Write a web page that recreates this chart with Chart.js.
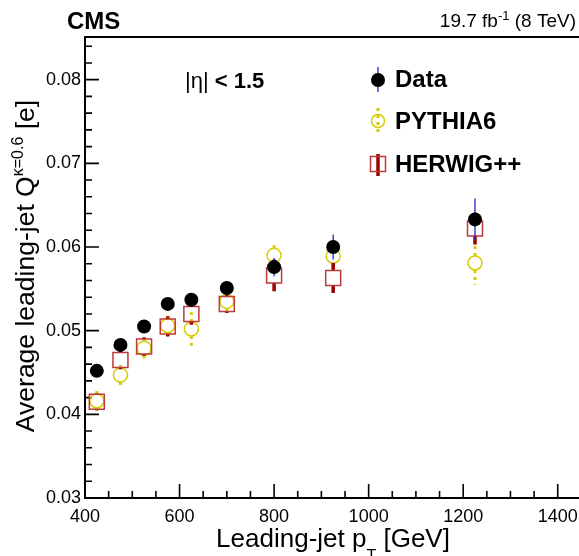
<!DOCTYPE html>
<html>
<head>
<meta charset="utf-8">
<script src="https://cdn.jsdelivr.net/npm/chart.js@4.4.1/dist/chart.umd.min.js"></script>
<style>
	body { margin: 0; background: #fff; }
	#wrap { width: 579px; height: 556px; }
</style>
</head>
<body>
<div id="wrap"><canvas id="chart" width="579" height="556"></canvas></div>
<script>
// leading-jet pT bins (GeV) and average jet charge values
const ptBins = [425, 475, 525, 575, 625, 700, 800, 925, 1225];
const dataQ = [0.0452, 0.0483, 0.0505, 0.0532, 0.0537, 0.0551, 0.0576, 0.0600, 0.0633];
const dataErr = [0.0004, 0.0004, 0.0004, 0.0005, 0.0005, 0.0006, 0.0011, 0.0015, 0.0025];
const pythiaQ = [0.0416, 0.0447, 0.0479, 0.0506, 0.0502, 0.0535, 0.0590, 0.0589, 0.0581];
const pythiaErr = [0.0013, 0.0013, 0.0013, 0.0014, 0.0020, 0.0012, 0.0017, 0.0015, 0.0026];
const herwigQ = [0.0415, 0.0465, 0.0481, 0.0505, 0.0520, 0.0532, 0.0566, 0.0563, 0.0622];
const herwigErr = [0.0010, 0.0011, 0.0011, 0.0012, 0.0013, 0.0011, 0.0019, 0.0018, 0.0019];

const xTicks = [400, 600, 800, 1000, 1200, 1400];
const yTicks = [0.03, 0.04, 0.05, 0.06, 0.07, 0.08];

const FONT = "'Liberation Sans', Arial, Helvetica, sans-serif";
const YELLOW = "#d8cc00";
const DARKRED = "#9c0000";
const SQUARE = "#bb3a3a";
const BLUE = "#2424c8";

function points(ys) {
	return ptBins.map((x, i) => ({ x: x, y: ys[i] }));
}

// draws a row of text pieces (sup/sub via dy)
function textRun(ctx, parts, x, y, align) {
	let total = 0;
	parts.forEach(p => {
		ctx.font = (p.bold ? "bold " : "") + p.size + "px " + FONT;
		p.w = ctx.measureText(p.t).width;
		total += p.w;
	});
	let cx = align === "center" ? x - total / 2 : align === "right" ? x - total : x;
	ctx.textAlign = "left";
	ctx.textBaseline = "alphabetic";
	parts.forEach(p => {
		ctx.font = (p.bold ? "bold " : "") + p.size + "px " + FONT;
		ctx.fillText(p.t, cx, y + (p.dy || 0));
		cx += p.w;
	});
}

// error bars, drawn just before each dataset's markers
const errorBars = {
	id: "errorBars",
	beforeDatasetDraw(chart, args) {
		const ds = chart.data.datasets[args.index];
		const yScale = chart.scales.y;
		const ctx = chart.ctx;
		ctx.save();
		ctx.strokeStyle = ds.errColor;
		ctx.lineWidth = ds.errWidth;
		ctx.setLineDash(ds.errDash || []);
		args.meta.data.forEach((pt, i) => {
			const v = ds.data[i].y;
			const top = yScale.getPixelForValue(v + ds.errors[i]);
			const bot = yScale.getPixelForValue(v - ds.errors[i]);
			const gap = ds.errGap;
			ctx.beginPath();
			if (pt.y - gap > top) {
				ctx.moveTo(pt.x, pt.y - gap);
				ctx.lineTo(pt.x, top);
			}
			if (pt.y + gap < bot) {
				ctx.moveTo(pt.x, pt.y + gap);
				ctx.lineTo(pt.x, bot);
			}
			ctx.stroke();
		});
		ctx.restore();
	}
};

// ROOT style frame with inward ticks
const frame = {
	id: "frame",
	beforeDatasetsDraw(chart) {
		const ctx = chart.ctx;
		const a = chart.chartArea;
		const xs = chart.scales.x;
		const ys = chart.scales.y;
		ctx.save();
		ctx.strokeStyle = "#000";
		ctx.lineWidth = 1.6;
		ctx.beginPath();
		for (let v = 400; v <= 1445; v += 50) {
			const px = xs.getPixelForValue(v);
			const len = v % 200 === 0 ? 14 : 7;
			ctx.moveTo(px, a.bottom);
			ctx.lineTo(px, a.bottom - len);
		}
		for (let k = 30; k <= 85; k += 2) {
			const py = ys.getPixelForValue(k / 1000);
			const len = k % 10 === 0 ? 14 : 7;
			ctx.moveTo(a.left, py);
			ctx.lineTo(a.left + len, py);
		}
		ctx.stroke();
		ctx.lineWidth = 2;
		ctx.beginPath();
		ctx.moveTo(a.right + 2, a.top);
		ctx.lineTo(a.left, a.top);
		ctx.lineTo(a.left, a.bottom);
		ctx.lineTo(a.right + 2, a.bottom);
		ctx.stroke();

		// x tick labels
		ctx.fillStyle = "#000";
		ctx.font = "18px " + FONT;
		ctx.textAlign = "center";
		ctx.textBaseline = "alphabetic";
		xTicks.forEach(v => {
			ctx.fillText(String(v), xs.getPixelForValue(v), 522);
		});
		ctx.restore();
	},
	afterDraw(chart) {
		const ctx = chart.ctx;
		ctx.save();
		ctx.fillStyle = "#000";

		textRun(ctx, [{ t: "CMS", size: 24, bold: true }], 67, 29, "left");
		textRun(ctx, [
			{ t: "19.7 fb", size: 19 },
			{ t: "-1", size: 13, dy: -7 },
			{ t: " (8 TeV)", size: 19 }
		], 576, 27, "right");

		textRun(ctx, [
			{ t: "|\u03B7|", size: 22 },
			{ t: " < 1.5", size: 22, bold: true }
		], 185, 88, "left");

		// axis titles
		textRun(ctx, [
			{ t: "Leading-jet p", size: 26 },
			{ t: "T", size: 16, dy: 14 },
			{ t: " [GeV]", size: 26 }
		], 333, 547, "center");

		ctx.save();
		ctx.translate(34, 266);
		ctx.rotate(-Math.PI / 2);
		textRun(ctx, [
			{ t: "Average leading-jet Q", size: 26.5 },
			{ t: "\u03BA=0.6", size: 16, dy: -11 },
			{ t: " [e]", size: 26.5 }
		], 0, 0, "center");
		ctx.restore();

		// legend
		const lx = 378;
		ctx.strokeStyle = BLUE;
		ctx.lineWidth = 1.3;
		ctx.beginPath();
		ctx.moveTo(lx, 67);
		ctx.lineTo(lx, 92);
		ctx.stroke();
		ctx.fillStyle = "#000";
		ctx.beginPath();
		ctx.arc(lx, 80, 7, 0, Math.PI * 2);
		ctx.fill();

		ctx.strokeStyle = YELLOW;
		ctx.lineWidth = 3;
		ctx.setLineDash([3, 4]);
		ctx.beginPath();
		ctx.moveTo(lx, 108);
		ctx.lineTo(lx, 136);
		ctx.stroke();
		ctx.setLineDash([]);
		ctx.lineWidth = 1.5;
		ctx.beginPath();
		ctx.arc(lx, 121, 6.5, 0, Math.PI * 2);
		ctx.stroke();

		ctx.strokeStyle = DARKRED;
		ctx.lineWidth = 3.5;
		ctx.beginPath();
		ctx.moveTo(lx, 154);
		ctx.lineTo(lx, 176);
		ctx.stroke();
		ctx.strokeStyle = SQUARE;
		ctx.lineWidth = 1.5;
		ctx.strokeRect(lx - 7.5, 156.5, 15, 15);

		ctx.fillStyle = "#000";
		textRun(ctx, [{ t: "Data", size: 24, bold: true }], 395, 87, "left");
		textRun(ctx, [{ t: "PYTHIA6", size: 24, bold: true }], 395, 129, "left");
		textRun(ctx, [{ t: "HERWIG++", size: 24, bold: true }], 395, 172, "left");
		ctx.restore();
	}
};

new Chart(document.getElementById("chart"), {
	type: "scatter",
	data: {
		datasets: [
			{
				label: "Data",
				data: points(dataQ),
				errors: dataErr,
				errColor: BLUE,
				errWidth: 1.3,
				errGap: 0,
				order: 0,
				pointStyle: "circle",
				pointRadius: 7,
				backgroundColor: "#000",
				borderWidth: 0
			},
			{
				label: "PYTHIA6",
				data: points(pythiaQ),
				errors: pythiaErr,
				errColor: YELLOW,
				errWidth: 3,
				errDash: [3, 4],
				errGap: 7,
				order: 2,
				pointStyle: "circle",
				pointRadius: 7,
				backgroundColor: "rgba(0,0,0,0)",
				borderColor: YELLOW,
				borderWidth: 1.5
			},
			{
				label: "HERWIG++",
				data: points(herwigQ),
				errors: herwigErr,
				errColor: DARKRED,
				errWidth: 3.5,
				errGap: 7.5,
				order: 1,
				pointStyle: "rect",
				pointRadius: 10.6,
				backgroundColor: "rgba(0,0,0,0)",
				borderColor: SQUARE,
				borderWidth: 1.5
			}
		]
	},
	options: {
		responsive: false,
		animation: false,
		layout: { autoPadding: false, padding: { top: 37, left: 0, right: 0, bottom: 0 } },
		plugins: {
			legend: { display: false },
			tooltip: { enabled: false }
		},
		scales: {
			x: {
				type: "linear",
				min: 400,
				max: 1445,
				grid: { display: false, drawTicks: false },
				border: { display: false },
				ticks: { display: false },
				afterBuildTicks: s => { s.ticks = xTicks.map(v => ({ value: v })); },
				afterFit: s => {
					s.height = 58;
					s.paddingLeft = 0;
					s.paddingRight = 0;
				}
			},
			y: {
				type: "linear",
				min: 0.03,
				max: 0.0851,
				grid: { display: false, drawTicks: false },
				border: { display: false },
				ticks: {
					color: "#000",
					font: { family: FONT, size: 18 },
					padding: 4,
					callback: v => v.toFixed(2)
				},
				afterBuildTicks: s => { s.ticks = yTicks.map(v => ({ value: v })); },
				afterFit: s => {
					s.width = 85;
					s.paddingTop = 0;
					s.paddingBottom = 0;
				}
			}
		}
	},
	plugins: [errorBars, frame]
});
</script>
</body>
</html>
